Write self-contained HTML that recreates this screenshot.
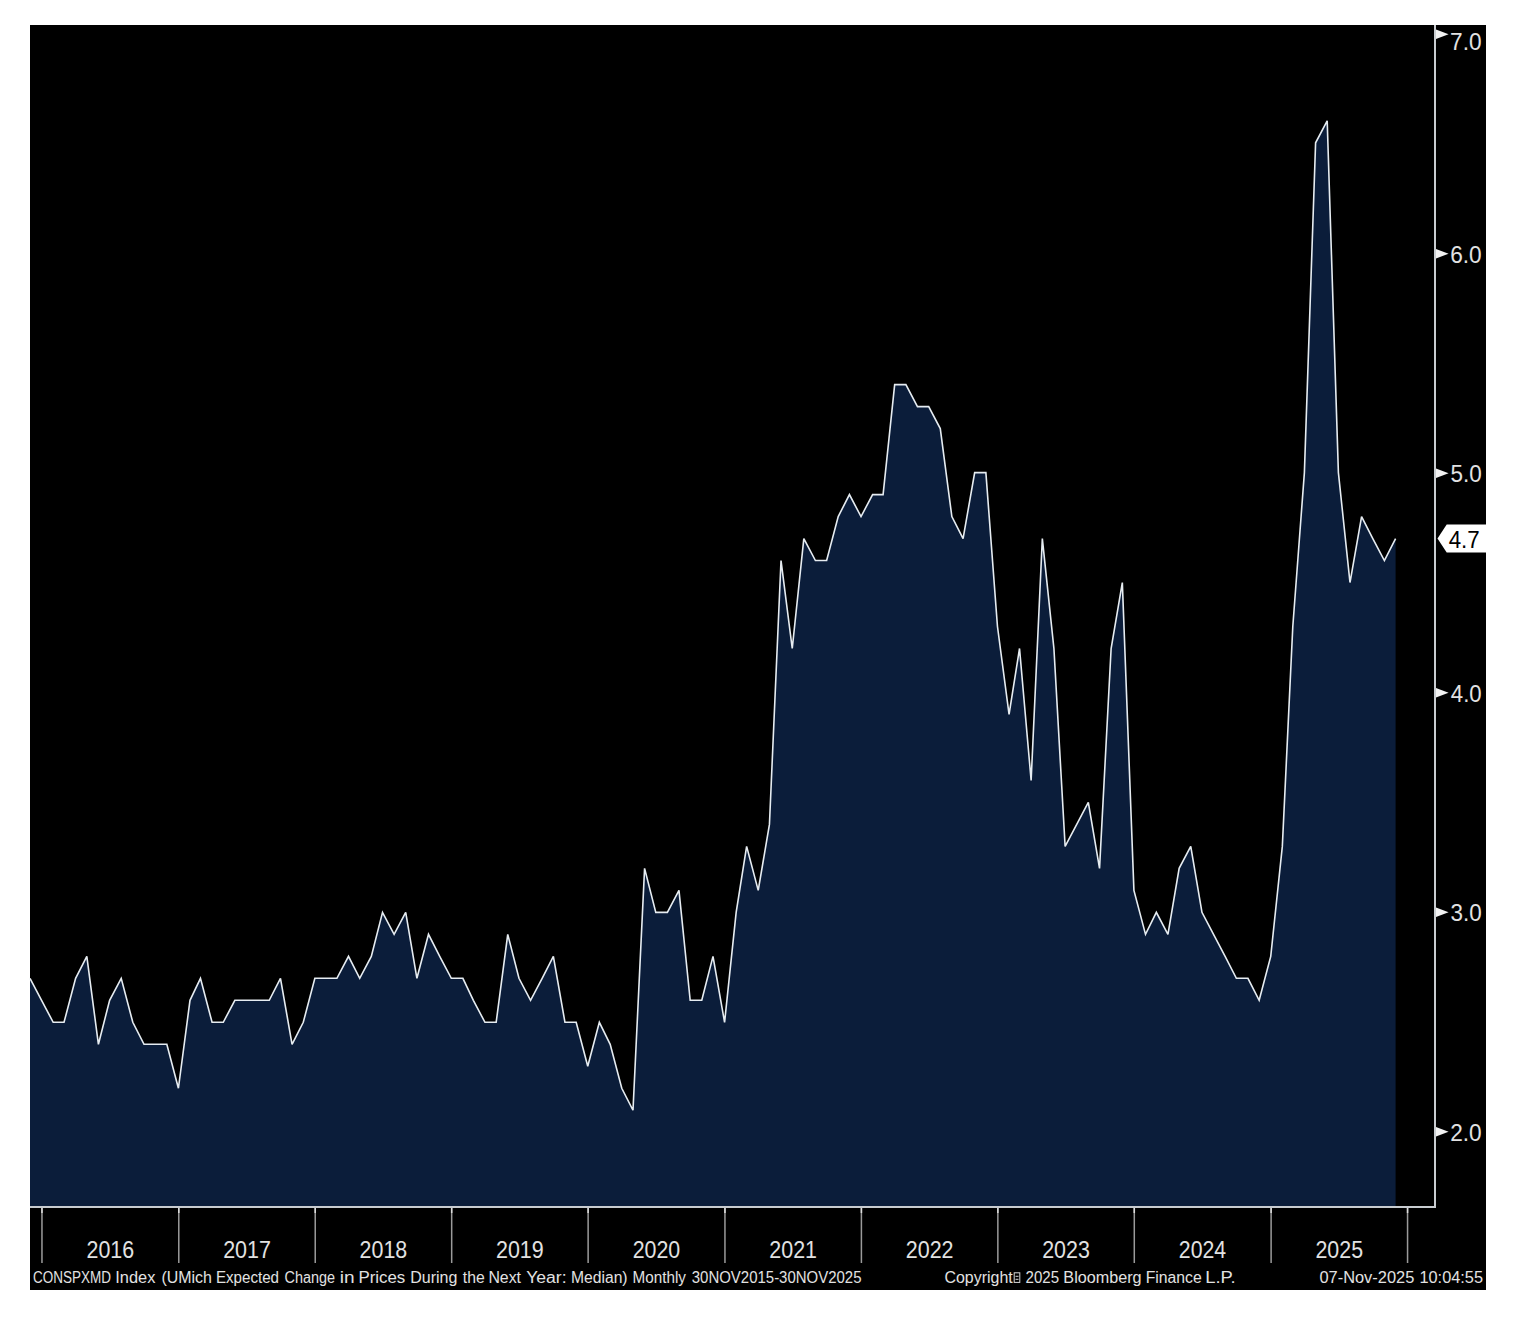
<!DOCTYPE html>
<html><head><meta charset="utf-8"><style>
html,body{margin:0;padding:0;background:#fff;}
body{width:1520px;height:1320px;overflow:hidden;}
svg{display:block;}
text{font-family:"Liberation Sans",sans-serif;fill:#e2e2e2;}
</style></head><body>
<svg width="1520" height="1320" viewBox="0 0 1520 1320">
<rect x="30" y="25" width="1456" height="1265" fill="#000"/>
<path d="M30.00,1207 L30.00,978.32 L41.59,1000.31 L53.18,1022.30 L64.02,1022.30 L75.61,978.32 L86.82,956.34 L98.41,1044.29 L109.63,1000.31 L121.21,978.32 L132.80,1022.30 L144.02,1044.29 L155.61,1044.29 L166.82,1044.29 L178.41,1088.26 L190.00,1000.31 L200.47,978.32 L212.06,1022.30 L223.27,1022.30 L234.86,1000.31 L246.07,1000.31 L257.66,1000.31 L269.25,1000.31 L280.47,978.32 L292.05,1044.29 L303.27,1022.30 L314.86,978.32 L326.45,978.32 L336.91,978.32 L348.50,956.34 L359.72,978.32 L371.31,956.34 L382.52,912.36 L394.11,934.35 L405.70,912.36 L416.91,978.32 L428.50,934.35 L439.72,956.34 L451.31,978.32 L462.89,978.32 L473.36,1000.31 L484.95,1022.30 L496.17,1022.30 L507.75,934.35 L518.97,978.32 L530.56,1000.31 L542.15,978.32 L553.36,956.34 L564.95,1022.30 L576.17,1022.30 L587.75,1066.28 L599.34,1022.30 L610.18,1044.29 L621.77,1088.26 L632.99,1110.25 L644.58,868.38 L655.79,912.36 L667.38,912.36 L678.97,890.37 L690.18,1000.31 L701.77,1000.31 L712.99,956.34 L724.58,1022.30 L736.16,912.36 L746.63,846.40 L758.22,890.37 L769.44,824.41 L781.02,560.55 L792.24,648.50 L803.83,538.56 L815.42,560.55 L826.63,560.55 L838.22,516.58 L849.43,494.59 L861.02,516.58 L872.61,494.59 L883.08,494.59 L894.67,384.65 L905.88,384.65 L917.47,406.64 L928.69,406.64 L940.28,428.62 L951.86,516.58 L963.08,538.56 L974.67,472.60 L985.88,472.60 L997.47,626.52 L1009.06,714.47 L1019.53,648.50 L1031.12,780.43 L1042.33,538.56 L1053.92,648.50 L1065.13,846.40 L1076.72,824.41 L1088.31,802.42 L1099.53,868.38 L1111.12,648.50 L1122.33,582.54 L1133.92,890.37 L1145.51,934.35 L1156.35,912.36 L1167.94,934.35 L1179.15,868.38 L1190.74,846.40 L1201.96,912.36 L1213.54,934.35 L1225.13,956.34 L1236.35,978.32 L1247.94,978.32 L1259.15,1000.31 L1270.74,956.34 L1282.33,846.40 L1292.80,626.52 L1304.39,472.60 L1315.60,142.78 L1327.19,120.79 L1338.40,472.60 L1349.99,582.54 L1361.58,516.58 L1372.80,538.56 L1384.39,560.55 L1395.60,538.56 L1395.60,1207 Z" fill="#0b1d3a"/>
<polyline points="30.00,978.32 41.59,1000.31 53.18,1022.30 64.02,1022.30 75.61,978.32 86.82,956.34 98.41,1044.29 109.63,1000.31 121.21,978.32 132.80,1022.30 144.02,1044.29 155.61,1044.29 166.82,1044.29 178.41,1088.26 190.00,1000.31 200.47,978.32 212.06,1022.30 223.27,1022.30 234.86,1000.31 246.07,1000.31 257.66,1000.31 269.25,1000.31 280.47,978.32 292.05,1044.29 303.27,1022.30 314.86,978.32 326.45,978.32 336.91,978.32 348.50,956.34 359.72,978.32 371.31,956.34 382.52,912.36 394.11,934.35 405.70,912.36 416.91,978.32 428.50,934.35 439.72,956.34 451.31,978.32 462.89,978.32 473.36,1000.31 484.95,1022.30 496.17,1022.30 507.75,934.35 518.97,978.32 530.56,1000.31 542.15,978.32 553.36,956.34 564.95,1022.30 576.17,1022.30 587.75,1066.28 599.34,1022.30 610.18,1044.29 621.77,1088.26 632.99,1110.25 644.58,868.38 655.79,912.36 667.38,912.36 678.97,890.37 690.18,1000.31 701.77,1000.31 712.99,956.34 724.58,1022.30 736.16,912.36 746.63,846.40 758.22,890.37 769.44,824.41 781.02,560.55 792.24,648.50 803.83,538.56 815.42,560.55 826.63,560.55 838.22,516.58 849.43,494.59 861.02,516.58 872.61,494.59 883.08,494.59 894.67,384.65 905.88,384.65 917.47,406.64 928.69,406.64 940.28,428.62 951.86,516.58 963.08,538.56 974.67,472.60 985.88,472.60 997.47,626.52 1009.06,714.47 1019.53,648.50 1031.12,780.43 1042.33,538.56 1053.92,648.50 1065.13,846.40 1076.72,824.41 1088.31,802.42 1099.53,868.38 1111.12,648.50 1122.33,582.54 1133.92,890.37 1145.51,934.35 1156.35,912.36 1167.94,934.35 1179.15,868.38 1190.74,846.40 1201.96,912.36 1213.54,934.35 1225.13,956.34 1236.35,978.32 1247.94,978.32 1259.15,1000.31 1270.74,956.34 1282.33,846.40 1292.80,626.52 1304.39,472.60 1315.60,142.78 1327.19,120.79 1338.40,472.60 1349.99,582.54 1361.58,516.58 1372.80,538.56 1384.39,560.55 1395.60,538.56" fill="none" stroke="#e6ecf1" stroke-width="1.6" stroke-linejoin="miter" stroke-miterlimit="3"/>
<rect x="1434" y="25" width="2" height="1183" fill="#c8ccd0"/>
<rect x="30" y="1206" width="1406" height="2" fill="#c8ccd0"/>
<rect x="41.21" y="1208" width="1.5" height="55" fill="#9a9a9a"/><rect x="41.21" y="1208" width="1.5" height="5" fill="#dcdcdc"/>
<rect x="178.03" y="1208" width="1.5" height="55" fill="#9a9a9a"/><rect x="178.03" y="1208" width="1.5" height="5" fill="#dcdcdc"/>
<rect x="314.48" y="1208" width="1.5" height="55" fill="#9a9a9a"/><rect x="314.48" y="1208" width="1.5" height="5" fill="#dcdcdc"/>
<rect x="450.93" y="1208" width="1.5" height="55" fill="#9a9a9a"/><rect x="450.93" y="1208" width="1.5" height="5" fill="#dcdcdc"/>
<rect x="587.38" y="1208" width="1.5" height="55" fill="#9a9a9a"/><rect x="587.38" y="1208" width="1.5" height="5" fill="#dcdcdc"/>
<rect x="724.20" y="1208" width="1.5" height="55" fill="#9a9a9a"/><rect x="724.20" y="1208" width="1.5" height="5" fill="#dcdcdc"/>
<rect x="860.65" y="1208" width="1.5" height="55" fill="#9a9a9a"/><rect x="860.65" y="1208" width="1.5" height="5" fill="#dcdcdc"/>
<rect x="997.10" y="1208" width="1.5" height="55" fill="#9a9a9a"/><rect x="997.10" y="1208" width="1.5" height="5" fill="#dcdcdc"/>
<rect x="1133.54" y="1208" width="1.5" height="55" fill="#9a9a9a"/><rect x="1133.54" y="1208" width="1.5" height="5" fill="#dcdcdc"/>
<rect x="1270.36" y="1208" width="1.5" height="55" fill="#9a9a9a"/><rect x="1270.36" y="1208" width="1.5" height="5" fill="#dcdcdc"/>
<rect x="1406.81" y="1208" width="1.5" height="55" fill="#9a9a9a"/><rect x="1406.81" y="1208" width="1.5" height="5" fill="#dcdcdc"/>
<text x="86.50" y="1258.20" font-size="23.3" textLength="47.63" lengthAdjust="spacingAndGlyphs">2016</text>
<text x="223.13" y="1258.20" font-size="23.3" textLength="47.80" lengthAdjust="spacingAndGlyphs">2017</text>
<text x="359.59" y="1258.20" font-size="23.3" textLength="47.63" lengthAdjust="spacingAndGlyphs">2018</text>
<text x="496.03" y="1258.20" font-size="23.3" textLength="47.68" lengthAdjust="spacingAndGlyphs">2019</text>
<text x="632.67" y="1258.20" font-size="23.3" textLength="47.52" lengthAdjust="spacingAndGlyphs">2020</text>
<text x="769.30" y="1258.20" font-size="23.3" textLength="47.74" lengthAdjust="spacingAndGlyphs">2021</text>
<text x="905.75" y="1258.20" font-size="23.3" textLength="47.80" lengthAdjust="spacingAndGlyphs">2022</text>
<text x="1042.20" y="1258.20" font-size="23.3" textLength="47.63" lengthAdjust="spacingAndGlyphs">2023</text>
<text x="1178.84" y="1258.20" font-size="23.3" textLength="47.29" lengthAdjust="spacingAndGlyphs">2024</text>
<text x="1315.47" y="1258.20" font-size="23.3" textLength="47.57" lengthAdjust="spacingAndGlyphs">2025</text>

<path d="M1436,29.50 L1448.6,34.20 L1436,38.90 Z" fill="#f2f2f2"/>
<text x="1450.11" y="50.20" font-size="23.3" textLength="31.55" lengthAdjust="spacingAndGlyphs">7.0</text>
<path d="M1436,249.00 L1448.6,253.70 L1436,258.40 Z" fill="#f2f2f2"/>
<text x="1450.17" y="262.70" font-size="23.3" textLength="31.49" lengthAdjust="spacingAndGlyphs">6.0</text>
<path d="M1436,468.50 L1448.6,473.20 L1436,477.90 Z" fill="#f2f2f2"/>
<text x="1450.40" y="482.20" font-size="23.3" textLength="31.25" lengthAdjust="spacingAndGlyphs">5.0</text>
<path d="M1436,688.00 L1448.6,692.70 L1436,697.40 Z" fill="#f2f2f2"/>
<text x="1450.80" y="701.70" font-size="23.3" textLength="30.84" lengthAdjust="spacingAndGlyphs">4.0</text>
<path d="M1436,907.50 L1448.6,912.20 L1436,916.90 Z" fill="#f2f2f2"/>
<text x="1450.46" y="921.20" font-size="23.3" textLength="31.19" lengthAdjust="spacingAndGlyphs">3.0</text>
<path d="M1436,1127.00 L1448.6,1131.70 L1436,1136.40 Z" fill="#f2f2f2"/>
<text x="1450.17" y="1140.70" font-size="23.3" textLength="31.49" lengthAdjust="spacingAndGlyphs">2.0</text>

<path d="M1437.5,538.4 L1446.7,524.4 L1486,524.4 L1486,552.6 L1446.7,552.6 Z" fill="#fff"/>
<text x="1448.70" y="547.60" font-size="23.3" textLength="31.02" lengthAdjust="spacingAndGlyphs" style="fill:#000">4.7</text>
<text x="32.92" y="1282.80" font-size="16.0" textLength="78.03" lengthAdjust="spacingAndGlyphs">CONSPXMD</text>
<text x="115.28" y="1282.80" font-size="16.0" textLength="40.10" lengthAdjust="spacingAndGlyphs">Index</text>
<text x="161.40" y="1282.80" font-size="16.0" textLength="50.56" lengthAdjust="spacingAndGlyphs">(UMich</text>
<text x="215.95" y="1282.80" font-size="16.0" textLength="63.02" lengthAdjust="spacingAndGlyphs">Expected</text>
<text x="284.58" y="1282.80" font-size="16.0" textLength="50.54" lengthAdjust="spacingAndGlyphs">Change</text>
<text x="339.71" y="1282.80" font-size="16.0" textLength="14.84" lengthAdjust="spacingAndGlyphs">in</text>
<text x="358.41" y="1282.80" font-size="16.0" textLength="46.90" lengthAdjust="spacingAndGlyphs">Prices</text>
<text x="410.28" y="1282.80" font-size="16.0" textLength="47.13" lengthAdjust="spacingAndGlyphs">During</text>
<text x="462.76" y="1282.80" font-size="16.0" textLength="21.91" lengthAdjust="spacingAndGlyphs">the</text>
<text x="488.39" y="1282.80" font-size="16.0" textLength="32.65" lengthAdjust="spacingAndGlyphs">Next</text>
<text x="526.20" y="1282.80" font-size="16.0" textLength="40.39" lengthAdjust="spacingAndGlyphs">Year:</text>
<text x="571.01" y="1282.80" font-size="16.0" textLength="56.58" lengthAdjust="spacingAndGlyphs">Median)</text>
<text x="632.54" y="1282.80" font-size="16.0" textLength="53.38" lengthAdjust="spacingAndGlyphs">Monthly</text>
<text x="691.74" y="1282.80" font-size="16.0" textLength="169.78" lengthAdjust="spacingAndGlyphs">30NOV2015-30NOV2025</text>
<text x="944.50" y="1282.80" font-size="16.0" textLength="68.22" lengthAdjust="spacingAndGlyphs">Copyright</text>
<text x="1025.55" y="1282.80" font-size="16.0" textLength="33.49" lengthAdjust="spacingAndGlyphs">2025</text>
<text x="1063.37" y="1282.80" font-size="16.0" textLength="78.16" lengthAdjust="spacingAndGlyphs">Bloomberg</text>
<text x="1145.70" y="1282.80" font-size="16.0" textLength="55.97" lengthAdjust="spacingAndGlyphs">Finance</text>
<text x="1205.28" y="1282.80" font-size="16.0" textLength="30.37" lengthAdjust="spacingAndGlyphs">L.P.</text>
<text x="1319.44" y="1282.80" font-size="16.0" textLength="94.84" lengthAdjust="spacingAndGlyphs">07-Nov-2025</text>
<text x="1419.48" y="1282.80" font-size="16.0" textLength="63.48" lengthAdjust="spacingAndGlyphs">10:04:55</text>
<rect x="1014.2" y="1272.8" width="5.6" height="9.6" fill="none" stroke="#d8d8d8" stroke-width="1"/><path d="M1015.5,1276.3 H1018.5 M1015.5,1279.3 H1018.5" stroke="#d8d8d8" stroke-width="1"/>
</svg>
</body></html>
